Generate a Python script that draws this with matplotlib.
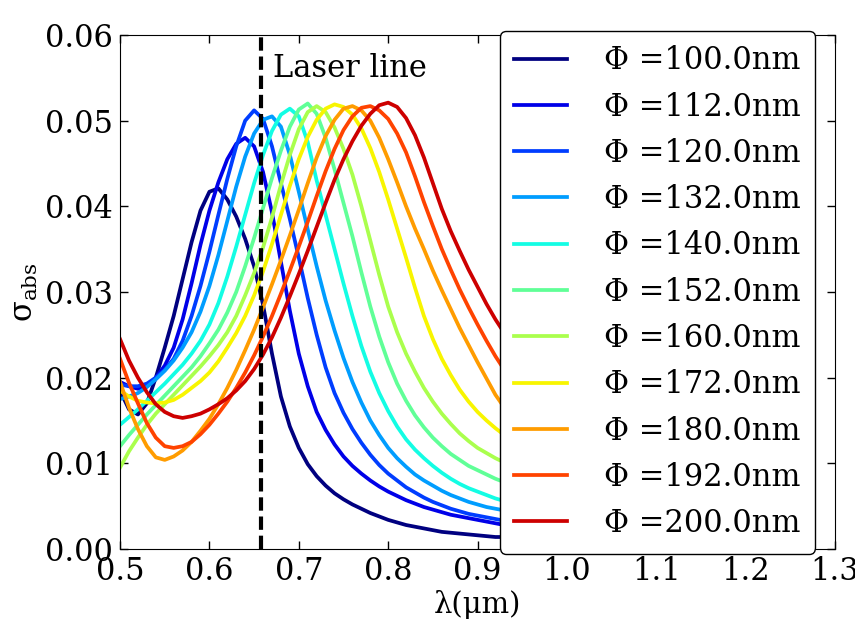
import numpy as np
import matplotlib
matplotlib.use("Agg")
import matplotlib.pyplot as plt
from matplotlib.ticker import FormatStrFormatter

plt.rcParams["font.family"] = ["DejaVu Serif"]
plt.rcParams["mathtext.fontset"] = "dejavuserif"

# wavelength grid (um) 0.50 ... 0.94, step 0.01
wavelength = [0.50, 0.51, 0.52, 0.53, 0.54, 0.55, 0.56, 0.57, 0.58, 0.59,
              0.60, 0.61, 0.62, 0.63, 0.64, 0.65, 0.66, 0.67, 0.68, 0.69,
              0.70, 0.71, 0.72, 0.73, 0.74, 0.75, 0.76, 0.77, 0.78, 0.79,
              0.80, 0.81, 0.82, 0.83, 0.84, 0.85, 0.86, 0.87, 0.88, 0.89,
              0.90, 0.91, 0.92, 0.93, 0.94]

diameters = [100.0, 112.0, 120.0, 132.0, 140.0, 152.0, 160.0, 172.0, 180.0, 192.0, 200.0]

sigma_100 = [0.0185, 0.0163, 0.0157, 0.0170, 0.0200, 0.0235, 0.0272, 0.0315, 0.0358, 0.0395,
             0.0417, 0.0421, 0.0408, 0.0388, 0.0362, 0.0330, 0.0285, 0.0228, 0.0178, 0.0143,
             0.0118, 0.0099, 0.0085, 0.0074, 0.0065, 0.0058, 0.0052, 0.0047, 0.0042, 0.0038,
             0.0034, 0.0031, 0.0028, 0.0026, 0.0024, 0.0022, 0.0020, 0.0019, 0.0018, 0.0017,
             0.0016, 0.0015, 0.0014, 0.0014, 0.0013]
sigma_112 = [0.0195, 0.0190, 0.0187, 0.0190, 0.0200, 0.0214, 0.0235, 0.0268, 0.0310, 0.0355,
             0.0395, 0.0428, 0.0455, 0.0473, 0.0480, 0.0470, 0.0440, 0.0393, 0.0335, 0.0278,
             0.0228, 0.0190, 0.0160, 0.0139, 0.0122, 0.0108, 0.0097, 0.0088, 0.0080, 0.0073,
             0.0067, 0.0062, 0.0057, 0.0053, 0.0049, 0.0046, 0.0043, 0.0040, 0.0038, 0.0036,
             0.0034, 0.0032, 0.0030, 0.0028, 0.0027]
sigma_120 = [0.0192, 0.0190, 0.0190, 0.0193, 0.0200, 0.0209, 0.0222, 0.0243, 0.0272, 0.0307,
             0.0347, 0.0390, 0.0432, 0.0470, 0.0500, 0.0512, 0.0502, 0.0470, 0.0427, 0.0385,
             0.0340, 0.0293, 0.0250, 0.0212, 0.0182, 0.0159, 0.0140, 0.0124, 0.0110, 0.0098,
             0.0088, 0.0080, 0.0072, 0.0066, 0.0060, 0.0055, 0.0051, 0.0047, 0.0044, 0.0041,
             0.0039, 0.0037, 0.0035, 0.0033, 0.0032]
sigma_132 = [0.0175, 0.0178, 0.0182, 0.0189, 0.0198, 0.0208, 0.0220, 0.0235, 0.0253, 0.0277,
             0.0307, 0.0343, 0.0383, 0.0423, 0.0458, 0.0485, 0.0501, 0.0505, 0.0493, 0.0460,
             0.0417, 0.0373, 0.0330, 0.0290, 0.0255, 0.0223, 0.0195, 0.0171, 0.0150, 0.0133,
             0.0118, 0.0106, 0.0096, 0.0087, 0.0080, 0.0074, 0.0068, 0.0063, 0.0059, 0.0055,
             0.0052, 0.0049, 0.0047, 0.0045, 0.0043]
sigma_140 = [0.0145, 0.0154, 0.0163, 0.0173, 0.0183, 0.0193, 0.0204, 0.0215, 0.0228, 0.0243,
             0.0262, 0.0287, 0.0318, 0.0353, 0.0390, 0.0427, 0.0460, 0.0488, 0.0507, 0.0514,
             0.0505, 0.0475, 0.0430, 0.0390, 0.0350, 0.0310, 0.0272, 0.0237, 0.0207, 0.0182,
             0.0161, 0.0143, 0.0128, 0.0116, 0.0106, 0.0097, 0.0089, 0.0082, 0.0076, 0.0071,
             0.0067, 0.0063, 0.0059, 0.0056, 0.0053]
sigma_152 = [0.0120, 0.0133, 0.0145, 0.0157, 0.0168, 0.0179, 0.0190, 0.0201, 0.0212, 0.0225,
             0.0240, 0.0256, 0.0276, 0.0300, 0.0330, 0.0363, 0.0398, 0.0433, 0.0465, 0.0493,
             0.0513, 0.0520, 0.0508, 0.0480, 0.0443, 0.0404, 0.0365, 0.0323, 0.0283, 0.0248,
             0.0218, 0.0193, 0.0173, 0.0156, 0.0142, 0.0130, 0.0120, 0.0111, 0.0104, 0.0097,
             0.0092, 0.0087, 0.0082, 0.0078, 0.0074]
sigma_160 = [0.0095, 0.0114, 0.0130, 0.0145, 0.0158, 0.0169, 0.0180, 0.0191, 0.0202, 0.0213,
             0.0225, 0.0238, 0.0253, 0.0272, 0.0296, 0.0322, 0.0352, 0.0387, 0.0425, 0.0460,
             0.0490, 0.0510, 0.0517, 0.0510, 0.0492, 0.0467, 0.0437, 0.0400, 0.0360, 0.0320,
             0.0283, 0.0253, 0.0228, 0.0207, 0.0188, 0.0172, 0.0158, 0.0146, 0.0135, 0.0126,
             0.0118, 0.0112, 0.0106, 0.0101, 0.0096]
sigma_172 = [0.0185, 0.0178, 0.0173, 0.0171, 0.0170, 0.0171, 0.0174, 0.0180, 0.0188, 0.0196,
             0.0206, 0.0219, 0.0235, 0.0252, 0.0272, 0.0296, 0.0324, 0.0356, 0.0390, 0.0424,
             0.0455, 0.0481, 0.0501, 0.0514, 0.0519, 0.0516, 0.0507, 0.0491, 0.0468, 0.0440,
             0.0408, 0.0374, 0.0340, 0.0305, 0.0272, 0.0245, 0.0222, 0.0203, 0.0186, 0.0172,
             0.0160, 0.0150, 0.0141, 0.0133, 0.0125]
sigma_180 = [0.0195, 0.0165, 0.0140, 0.0120, 0.0107, 0.0104, 0.0108, 0.0115, 0.0125, 0.0138,
             0.0152, 0.0169, 0.0188, 0.0209, 0.0232, 0.0256, 0.0282, 0.0309, 0.0337, 0.0366,
             0.0396, 0.0427, 0.0457, 0.0482, 0.0501, 0.0514, 0.0517, 0.0512, 0.0500, 0.0480,
             0.0455, 0.0428, 0.0400, 0.0374, 0.0350, 0.0325, 0.0302, 0.0280, 0.0258, 0.0238,
             0.0218, 0.0199, 0.0180, 0.0165, 0.0152]
sigma_192 = [0.0222, 0.0194, 0.0170, 0.0147, 0.0130, 0.0120, 0.0118, 0.0120, 0.0125, 0.0134,
             0.0145, 0.0158, 0.0172, 0.0188, 0.0206, 0.0226, 0.0248, 0.0272, 0.0298, 0.0325,
             0.0353, 0.0382, 0.0412, 0.0441, 0.0467, 0.0489, 0.0505, 0.0515, 0.0517, 0.0512,
             0.0502, 0.0485, 0.0463, 0.0435, 0.0405, 0.0377, 0.0350, 0.0326, 0.0303, 0.0282,
             0.0262, 0.0243, 0.0225, 0.0209, 0.0195]
sigma_200 = [0.0245, 0.0220, 0.0200, 0.0183, 0.0169, 0.0160, 0.0155, 0.0153, 0.0155, 0.0158,
             0.0163, 0.0169, 0.0176, 0.0185, 0.0196, 0.0210, 0.0227, 0.0247, 0.0270, 0.0295,
             0.0321, 0.0348, 0.0376, 0.0404, 0.0431, 0.0455, 0.0476, 0.0494, 0.0508, 0.0518,
             0.0521, 0.0516, 0.0503, 0.0483, 0.0457, 0.0427, 0.0397, 0.0371, 0.0348, 0.0326,
             0.0306, 0.0286, 0.0268, 0.0252, 0.0238]

curves = [sigma_100, sigma_112, sigma_120, sigma_132, sigma_140, sigma_152,
          sigma_160, sigma_172, sigma_180, sigma_192, sigma_200]

laser_line = 0.658

fig = plt.figure(figsize=(8.55, 6.28), dpi=100)
ax = fig.add_axes([0.1404, 0.1258, 0.8363, 0.8185])

colors = plt.cm.jet(np.linspace(0, 0.93, len(diameters)))
for d, s, c in zip(diameters, curves, colors):
    ax.plot(wavelength, s, color=c, lw=2.7, label=f"Φ ={d:.1f}nm")

ax.axvline(laser_line, color="k", ls="--", lw=3, dashes=(3.2, 1.4))
ax.text(0.6706, 0.0551, "Laser line", fontsize=22, va="baseline")

ax.set_xlim(0.5, 1.3)
ax.set_ylim(0, 0.06)
ax.set_xticks(np.arange(0.5, 1.31, 0.1))
ax.set_yticks(np.arange(0, 0.061, 0.01))
ax.xaxis.set_major_formatter(FormatStrFormatter("%.1f"))
ax.yaxis.set_major_formatter(FormatStrFormatter("%.2f"))
ax.tick_params(direction="in", length=6, width=1, top=True, right=True,
               labelsize=22, pad=5)

ax.set_xlabel("λ(μm)", fontsize=21)
ax.set_ylabel(r"$\mathrm{\sigma_{abs}}$", fontsize=22)
ax.xaxis.set_label_coords(0.5, -0.08)
ax.yaxis.set_label_coords(-0.112, 0.5)

leg = ax.legend(loc="upper left", bbox_to_anchor=(500 / 855, 597 / 628),
                bbox_transform=fig.transFigure, fontsize=22, fancybox=True,
                framealpha=1, edgecolor="k", borderaxespad=0, borderpad=0.47,
                handlelength=1.72, handletextpad=1.2, labelspacing=0.50)
leg.get_frame().set_linewidth(1.0)

fig.savefig("out.png", dpi=100)
